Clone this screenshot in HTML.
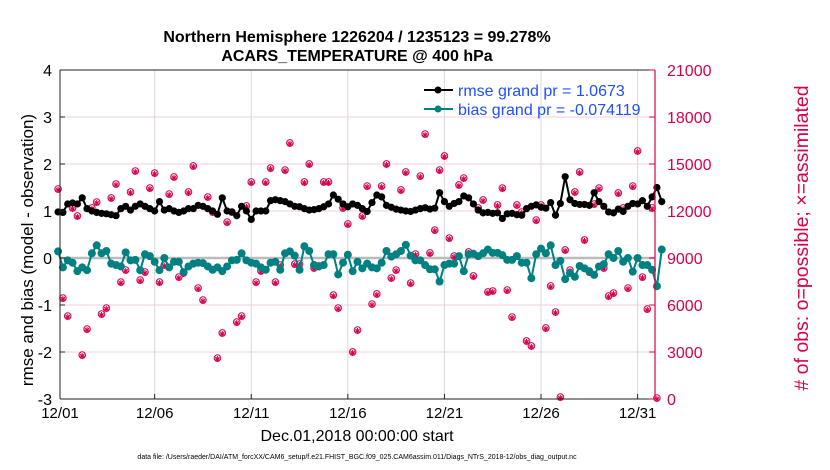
<!DOCTYPE html>
<html><head><meta charset="utf-8"><style>
body{margin:0;background:#fff;}
svg{display:block;font-family:"Liberation Sans",Arial,sans-serif;}
</style></head><body>
<svg id="chart" width="830" height="470">
<text x="357" y="42" text-anchor="middle" font-size="16" font-weight="bold">Northern Hemisphere 1226204 / 1235123 = 99.278%</text>
<text x="357" y="61" text-anchor="middle" font-size="16" font-weight="bold">ACARS_TEMPERATURE @ 400 hPa</text>
<g id="grid"></g>
<g id="obs"></g>
<g id="bias"></g>
<g id="rmse"></g>
<g id="axes"></g>
<g>
<line x1="424" y1="90" x2="453" y2="90" stroke="#000" stroke-width="2"/><circle cx="438" cy="90" r="3.5" fill="#000"/>
<text x="458" y="96" font-size="16" fill="#1f4fff">rmse grand pr = 1.0673</text>
<line x1="424" y1="109" x2="453" y2="109" stroke="#008080" stroke-width="2"/><circle cx="438" cy="109" r="3.5" fill="#008080"/>
<text x="458" y="115" font-size="16" fill="#1f4fff">bias grand pr = -0.074119</text>
</g>
<text transform="translate(33,250) rotate(-90)" text-anchor="middle" font-size="17">rmse and bias (model - observation)</text>
<text transform="translate(808,238) rotate(-90)" text-anchor="middle" font-size="19.5" fill="#d6004f"># of obs: o=possible; ×=assimilated</text>
<text x="357" y="441" text-anchor="middle" font-size="16">Dec.01,2018 00:00:00 start</text>
<text x="357" y="459" text-anchor="middle" font-size="7">data file: /Users/raeder/DAI/ATM_forcXX/CAM6_setup/f.e21.FHIST_BGC.f09_025.CAM6assim.011/Diags_NTrS_2018-12/obs_diag_output.nc</text>
</svg>
<script>
const xTickDays=[0,5,10,15,20,25,30];
const xTickLabels=["12/01","12/06","12/11","12/16","12/21","12/26","12/31"];
const yTicksLeft=[-3,-2,-1,0,1,2,3,4];
const yTicksRight=[0,3000,6000,9000,12000,15000,18000,21000];
const rmseVals=[0.98,0.97,1.15,1.17,1.15,1.28,1.05,1.0,0.97,0.95,0.94,0.92,0.9,1.05,1.1,1.02,1.1,1.15,1.1,1.05,1.0,1.2,1.02,1.05,1.0,0.97,1.0,1.05,1.05,1.12,1.1,1.05,1.0,0.93,1.28,1.0,0.98,0.9,1.1,1.0,0.82,1.0,1.0,1.0,
1.22,1.24,1.22,1.2,1.15,1.1,1.09,1.05,1.02,1.03,1.05,1.09,1.15,1.34,1.25,1.15,1.09,1.15,1.12,1.05,0.99,1.18,1.34,1.3,1.12,1.08,1.04,1.02,1.0,0.99,1.02,1.05,1.07,1.04,1.06,1.39,1.2,1.1,1.16,1.2,1.32,1.28,
1.15,1.02,0.96,0.97,0.95,0.96,0.84,0.94,0.95,0.92,0.91,1.05,1.1,1.13,1.08,1.06,1.18,0.91,1.16,1.73,1.24,1.16,1.14,1.14,1.12,1.39,1.2,1.1,0.98,0.96,1.04,0.99,1.1,1.16,1.15,1.22,1.1,1.3,1.5,1.2];
const biasVals=[0.14,-0.2,-0.05,-0.1,-0.28,-0.2,-0.26,0.1,0.27,0.1,0.15,-0.12,-0.15,-0.18,0.12,-0.05,-0.04,-0.26,0.08,0.04,-0.08,-0.26,0.0,-0.2,-0.08,-0.08,-0.3,-0.18,-0.12,-0.1,-0.11,-0.18,-0.25,-0.2,-0.28,-0.18,-0.05,-0.04,0.1,-0.05,-0.1,-0.12,-0.2,-0.25,
-0.1,-0.08,-0.25,0.1,0.14,0.05,-0.25,0.25,0.15,-0.15,-0.18,-0.15,0.08,0.08,-0.35,-0.1,0.07,-0.28,-0.08,-0.22,-0.12,-0.2,-0.22,-0.1,0.15,0.03,0.08,0.15,0.28,0.05,-0.05,-0.05,-0.15,-0.24,-0.24,-0.5,-0.15,-0.12,-0.12,0.04,-0.28,0.08,
0.09,0.04,0.1,0.18,0.11,0.11,0.06,-0.04,-0.04,0.04,-0.1,-0.1,-0.43,0.08,0.2,0.1,0.27,-0.15,-0.06,-0.45,-0.32,-0.4,-0.17,-0.22,-0.28,-0.36,-0.18,-0.13,0.08,0.0,0.15,-0.08,0.0,-0.29,0.0,-0.15,-0.15,-0.25,-0.6,0.18];
const obsVals=[13340,6380,5230,12130,11620,2740,4400,12130,12510,5360,5740,12770,13660,7400,8170,13150,14490,7530,8040,13400,14360,7400,8490,13020,14110,7720,7980,13150,14810,7020,6250,12830,11870,2550,4150,11230,11870,4850,5230,12260,13790,7400,8110,13790,14680,7400,8490,14550,16280,8550,8550,13790,14940,8300,8430,13790,13790,6570,5740,12130,11110,2940,4340,11620,13530,6000,6640,13530,14940,7660,8170,13280,14430,7340,9190,14170,16850,9260,10720,14550,15450,10210,9060,13600,14040,9320,7790,12130,12640,6770,6830,12320,13400,6890,5170,12320,11870,3640,3320,11360,12320,4470,7150,5490,60,9450,8170,13150,14430,10090,8040,12380,13400,8300,6510,6700,13090,12130,7020,13530,15770,7720,5680,12130,0];
const stepDays=0.25;
const L=60,R=655,T=70,B=399;
const xS=t=>L+(t-0.1)*(R-L)/30.8;
const yL=v=>B-(v+3)*(B-T)/7;
const yR=v=>B-v*(B-T)/21000;
const NS="http://www.w3.org/2000/svg";
function mk(tag,attrs,parent){const e=document.createElementNS(NS,tag);for(const k in attrs)e.setAttribute(k,attrs[k]);parent.appendChild(e);return e;}
const grid=document.getElementById('grid'),axes=document.getElementById('axes');
yTicksLeft.forEach(v=>{if(v!==0&&v!==-3&&v!==4){const l=mk('line',{x1:L,x2:R,y1:yL(v),y2:yL(v),stroke:'#f6cfdc','stroke-width':1},grid);

}});
xTickDays.forEach(d=>{const x=Math.max(L,xS(d));if(x>L+2){const l=mk('line',{x1:x,x2:x,y1:T,y2:B,stroke:'#d9d9d9','stroke-width':1},grid);

}});
const zl=mk('line',{x1:L,x2:R,y1:yL(0),y2:yL(0),stroke:'#bbb','stroke-width':2.5},grid);


const og=document.getElementById('obs');
obsVals.forEach((v,i)=>{const x=xS(i*stepDays),y=yR(v);const g=mk('g',{},og);


mk('circle',{cx:x,cy:y-1,r:3.3,fill:'none',stroke:'#d6004f','stroke-width':1},g);
mk('path',{d:`M${x-3} ${y}h6M${x} ${y-3}v6M${x-2.2} ${y-2.2}l4.4 4.4M${x-2.2} ${y+2.2}l4.4 -4.4`,stroke:'#d6004f','stroke-width':1},g);});
function series(vals,gid,color,r){const g=document.getElementById(gid);
const pts=vals.map((v,i)=>[xS(i*stepDays),yL(v)]);
const p=mk('polyline',{points:pts.map(p=>p.join(',')).join(' '),fill:'none',stroke:color,'stroke-width':2},g);


pts.forEach(q=>{const c=mk('circle',{cx:q[0],cy:q[1],r:r,fill:color},g);

});}
series(biasVals,'bias','#008080',4);
series(rmseVals,'rmse','#000',3.6);
mk('line',{x1:L,x2:L,y1:T,y2:B,stroke:'#222','stroke-width':1},axes);
mk('line',{x1:L,x2:R,y1:B,y2:B,stroke:'#222','stroke-width':1},axes);
mk('line',{x1:L,x2:R,y1:T,y2:T,stroke:'#222','stroke-width':1},axes);
mk('line',{x1:R,x2:R,y1:T,y2:B,stroke:'#d6004f','stroke-width':1.2},axes);
yTicksLeft.forEach(v=>{const y=yL(v);mk('line',{x1:L,x2:L+5,y1:y,y2:y,stroke:'#222'},axes);
const t=mk('text',{x:L-8,y:y+6,'text-anchor':'end','font-size':16},axes);t.textContent=v;

});
yTicksRight.forEach(v=>{const y=yR(v);mk('line',{x1:R-6,x2:R,y1:y,y2:y,stroke:'#d6004f'},axes);
const t=mk('text',{x:R+12,y:y+6,'font-size':16,fill:'#d6004f'},axes);t.textContent=v;

});
xTickDays.forEach((d,i)=>{const x=Math.max(L,xS(d));mk('line',{x1:x,x2:x,y1:B,y2:B-5,stroke:'#222'},axes);
const t=mk('text',{x:x,y:B+19,'text-anchor':'middle','font-size':15},axes);t.textContent=xTickLabels[i];

});
</script>
</body></html>
